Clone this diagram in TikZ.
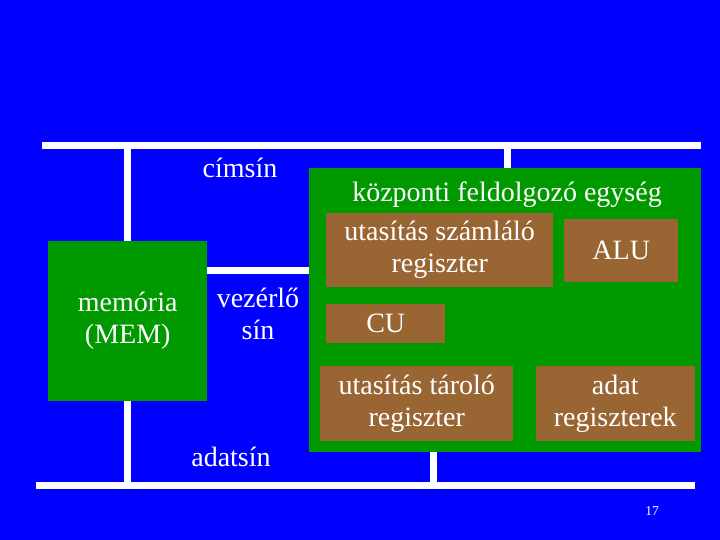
\documentclass[tikz,border=0pt]{standalone}
\usepackage{fontspec}
\setmainfont{Liberation Serif}
\definecolor{slideblue}{RGB}{0,0,255}
\definecolor{unitgreen}{RGB}{0,153,0}
\definecolor{regbrown}{RGB}{153,102,51}

\begin{document}
\begin{tikzpicture}[x=1pt, y=-1pt,
            unit/.style={rectangle, fill=unitgreen, anchor=north west, inner sep=0pt,
            font=\fontsize{28}{32}\selectfont, text=white, align=center},
            reg/.style={rectangle, fill=regbrown, anchor=north west, inner sep=0pt,
            font=\fontsize{28}{32}\selectfont, text=white, align=center},
            lbl/.style={font=\fontsize{28}{32}\selectfont, text=white, align=center},
            bus/.style={draw=white, line width=7pt},
        ]

            %% Hatter
            \fill[slideblue] (0,0) rectangle (720,540);
            \useasboundingbox (0,0) rectangle (720,540);

            %% Sinek koordinatai
            \coordinate (cim_l) at (42,145.5);
            \coordinate (cim_r) at (701,145.5);
            \coordinate (adat_l) at (36,485.5);
            \coordinate (adat_r) at (695,485.5);
            \coordinate (cim_cpu) at (507.5,145.5);
            \coordinate (adat_cpu) at (433.7,485.5);

            %% Egysegek
            \node[unit, minimum width=159, minimum height=159.5] (mem) at (48,241)
                {mem\'oria\\(MEM)};
            \node[unit, minimum width=392, minimum height=284] (cpu) at (309,168) {};

            %% Sinek
            \draw[bus] (cim_l) -- (cim_r);
            \draw[bus] (adat_l) -- (adat_r);
            \draw[bus] (mem.north) -- (mem.north |- cim_l);
            \draw[bus] (mem.south) -- (mem.south |- adat_l);
            \draw[bus] (cim_cpu) -- (cim_cpu |- cpu.north);
            \draw[bus] (adat_cpu) -- (adat_cpu |- cpu.south);
            \draw[bus] (mem.north east) ++(0,29) coordinate (vez) -- (vez -| cpu.west);

            %% Regiszterek
            \node[lbl] (cpu_title) at (507,195) {k\"ozponti feldolgoz\'o egys\'eg};
            \node[reg, minimum width=227, minimum height=74] (pc) at (326,213)
                {utas\'it\'as sz\'aml\'al\'o\\regiszter};
            \node[reg, minimum width=114, minimum height=63] (alu) at (564,219) {ALU};
            \node[reg, minimum width=119, minimum height=39] (cu) at (326,304) {CU};
            \node[reg, minimum width=193, minimum height=75] (ir) at (320,366)
                {utas\'it\'as t\'arol\'o\\regiszter};
            \node[reg, minimum width=159.5, minimum height=75] (dr) at (535.3,366)
                {adat\\regiszterek};

            %% Feliratok
            \node[lbl] (cim_lbl) at (240,168) {c\'ims\'in};
            \node[lbl] (vez_lbl) at (258,314) {vez\'erl\H{o}\\s\'in};
            \node[lbl] (adat_lbl) at (231,457) {adats\'in};
            \node[font=\fontsize{13.5}{16}\selectfont, text=white] (page) at (652,511) {17};

        \end{tikzpicture}
\end{document}
